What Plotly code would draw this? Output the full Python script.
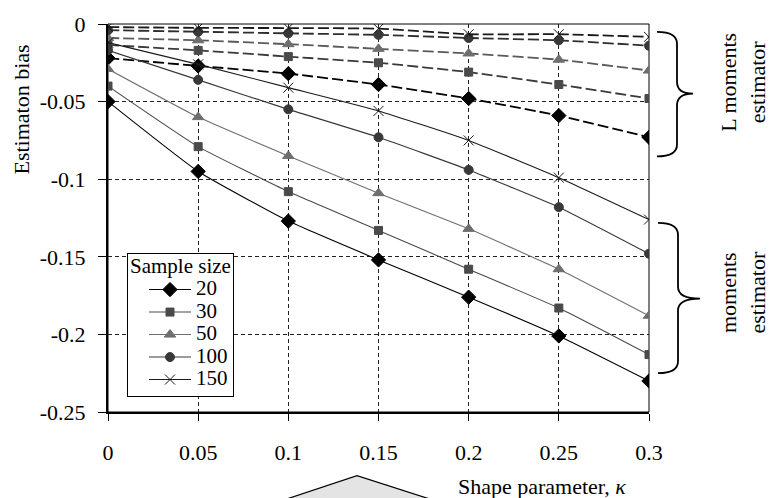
import plotly.graph_objects as go

# ---------------- data ----------------
kappa = [0, 0.05, 0.1, 0.15, 0.2, 0.25, 0.3]
sample_sizes = ["20", "30", "50", "100", "150"]

mom_20 = [-0.050, -0.095, -0.127, -0.152, -0.176, -0.201, -0.230]
mom_30 = [-0.040, -0.079, -0.108, -0.133, -0.158, -0.183, -0.213]
mom_50 = [-0.029, -0.060, -0.085, -0.109, -0.132, -0.158, -0.188]
mom_100 = [-0.017, -0.036, -0.055, -0.073, -0.094, -0.118, -0.148]
mom_150 = [-0.012, -0.026, -0.041, -0.056, -0.075, -0.099, -0.126]

lmom_20 = [-0.022, -0.027, -0.032, -0.039, -0.048, -0.059, -0.073]
lmom_30 = [-0.0135, -0.017, -0.021, -0.025, -0.031, -0.039, -0.048]
lmom_50 = [-0.009, -0.0105, -0.013, -0.016, -0.019, -0.023, -0.030]
lmom_100 = [-0.004, -0.005, -0.006, -0.007, -0.009, -0.0105, -0.014]
lmom_150 = [-0.002, -0.0025, -0.0026, -0.003, -0.0066, -0.0066, -0.0083]

x_ticks = [0, 0.05, 0.1, 0.15, 0.2, 0.25, 0.3]
x_tick_labels = ["0", "0.05", "0.1", "0.15", "0.2", "0.25", "0.3"]
y_ticks = [0, -0.05, -0.1, -0.15, -0.2, -0.25]
y_tick_labels = ["0", "-0.05", "-0.1", "-0.15", "-0.2", "-0.25"]

# ---------------- styles ----------------
FONT = "Liberation Serif"
styles = {
    "20": dict(symbol="diamond", msize=11, mcolor="#000000", lcolor="#000000", dcolor="#000000"),
    "30": dict(symbol="square", msize=8, mcolor="#4a4a4a", lcolor="#4a4a4a", dcolor="#3a3a3a"),
    "50": dict(symbol="triangle-up", msize=10, mcolor="#6e6e6e", lcolor="#707070", dcolor="#5a5a5a"),
    "100": dict(symbol="circle", msize=9, mcolor="#383838", lcolor="#383838", dcolor="#2e2e2e"),
    "150": dict(symbol="x-thin", msize=10, mcolor="#1a1a1a", lcolor="#1a1a1a", dcolor="#1a1a1a"),
}
mom = {"20": mom_20, "30": mom_30, "50": mom_50, "100": mom_100, "150": mom_150}
lmom = {"20": lmom_20, "30": lmom_30, "50": lmom_50, "100": lmom_100, "150": lmom_150}

LEG_TXT = 21       # displayed legend text size
LEG_SPACING = 15   # nominal size used by plotly for entry spacing

fig = go.Figure()

# dashed (L moments) first, without legend
for s in sample_sizes:
    st = styles[s]
    fig.add_trace(go.Scatter(
        x=kappa, y=lmom[s], mode="lines+markers", showlegend=False,
        line=dict(color=st["dcolor"], width=1.8, dash="11px,4px", shape="spline", smoothing=0.4),
        marker=dict(symbol=st["symbol"], size=st["msize"], color=st["mcolor"],
                    line=dict(color=st["mcolor"], width=1)),
    ))

# solid (moments) with legend
for s in sample_sizes:
    st = styles[s]
    fig.add_trace(go.Scatter(
        x=kappa, y=mom[s], mode="lines+markers",
        name=f'<span style="font-size:{LEG_TXT}px">{s}</span>',
        line=dict(color=st["lcolor"], width=1.1, shape="spline", smoothing=0.4),
        marker=dict(symbol=st["symbol"], size=st["msize"], color=st["mcolor"],
                    line=dict(color=st["mcolor"], width=1)),
    ))

# ---------------- geometry helpers (pixel -> paper) ----------------
W, H = 769, 498
L, R, T, B = 108, 120, 22, 86
PW, PH = W - L - R, H - T - B


def px(xp):
    return (xp - L) / PW


def py(yp):
    return (H - B - yp) / PH


def brace(x0, xv, xt, ytop, ytip, ybot):
    c = 12
    return (f"M {px(x0)},{py(ytop)} "
            f"Q {px(xv)},{py(ytop)} {px(xv)},{py(ytop + c)} "
            f"L {px(xv)},{py(ytip - c)} "
            f"Q {px(xv)},{py(ytip)} {px(xt)},{py(ytip)} "
            f"Q {px(xv)},{py(ytip)} {px(xv)},{py(ytip + c)} "
            f"L {px(xv)},{py(ybot - c)} "
            f"Q {px(xv)},{py(ybot)} {px(x0)},{py(ybot)}")


shapes = [
    dict(type="rect", xref="paper", yref="paper", x0=0, y0=0, x1=1, y1=1,
         line=dict(color="black", width=1), layer="below"),
    dict(type="path", xref="paper", yref="paper", path=brace(657, 677, 693, 30, 92, 155),
         line=dict(color="black", width=1.8)),
    dict(type="path", xref="paper", yref="paper", path=brace(658, 678, 700, 222, 298, 373),
         line=dict(color="black", width=1.8)),
    dict(type="path", xref="paper", yref="paper",
         path=(f"M {px(270)},{py(505)} L {px(357)},{py(476)} L {px(447)},{py(505)} Z"),
         fillcolor="#e4e4e4", line=dict(color="black", width=1.2)),
]

TF = 22
annotations = [
    dict(text="Estimaton bias", xref="paper", yref="paper", x=px(22), y=py(108),
         textangle=-90, showarrow=False, font=dict(family=FONT, size=TF, color="black"),
         xanchor="center", yanchor="middle"),
    dict(text="Shape parameter, <i>κ</i>", xref="paper", yref="paper", x=px(456), y=py(487),
         showarrow=False, font=dict(family=FONT, size=TF, color="black"),
         xanchor="left", yanchor="middle"),
    dict(text="L moments<br>estimator", xref="paper", yref="paper", x=px(743), y=py(81),
         textangle=-90, showarrow=False, font=dict(family=FONT, size=TF, color="black"),
         xanchor="center", yanchor="middle"),
    dict(text="moments<br>estimator", xref="paper", yref="paper", x=px(743), y=py(292),
         textangle=-90, showarrow=False, font=dict(family=FONT, size=TF, color="black"),
         xanchor="center", yanchor="middle"),
]

fig.update_layout(
    width=W, height=H,
    margin=dict(l=L, r=R, t=T, b=B, pad=0),
    paper_bgcolor="white", plot_bgcolor="white",
    font=dict(family=FONT, size=21, color="black"),
    shapes=shapes, annotations=annotations,
    legend=dict(
        title=dict(text=f'<span style="font-size:{LEG_TXT}px">Sample size</span>',
                   font=dict(family=FONT, size=LEG_SPACING)),
        font=dict(family=FONT, size=LEG_SPACING),
        x=px(127), y=py(252), xanchor="left", yanchor="top",
        bgcolor="white", bordercolor="black", borderwidth=1,
        itemwidth=42, tracegroupgap=0, indentation=16,
    ),
    xaxis=dict(
        range=[0, 0.3], tickvals=x_ticks, ticktext=x_tick_labels,
        showgrid=True, gridcolor="#222222", griddash="4px,3px", gridwidth=1,
        zeroline=False, showline=True, linecolor="black", linewidth=2,
        ticks="outside", ticklen=7, tickcolor="black", tickwidth=1,
        ticklabelstandoff=13, tickfont=dict(family=FONT, size=22),
    ),
    yaxis=dict(
        range=[-0.25, 0], tickvals=y_ticks, ticktext=y_tick_labels,
        showgrid=True, gridcolor="#222222", griddash="4px,3px", gridwidth=1,
        zeroline=False, showline=True, linecolor="black", linewidth=2,
        ticks="outside", ticklen=8, tickcolor="black", tickwidth=1,
        ticklabelstandoff=8, tickfont=dict(family=FONT, size=22),
    ),
)

fig.write_html("out.html")
